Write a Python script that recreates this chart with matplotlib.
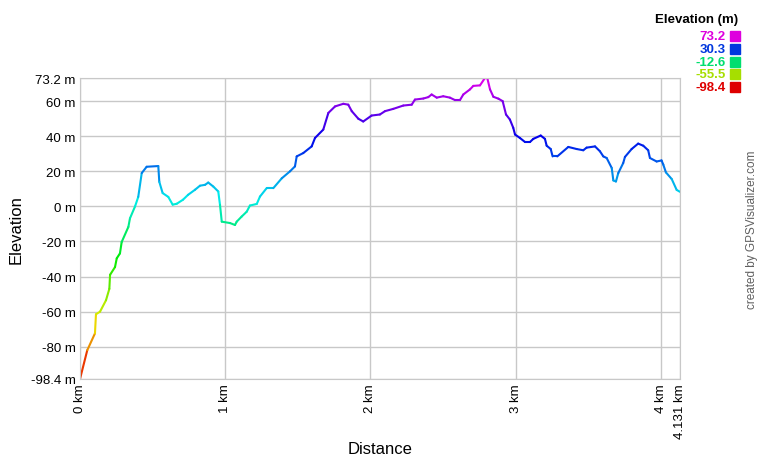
import numpy as np
import matplotlib
matplotlib.use('Agg')
import matplotlib.pyplot as plt
from matplotlib.collections import LineCollection
from matplotlib.colors import hsv_to_rgb

plt.rcParams['font.family'] = ['Liberation Sans', 'DejaVu Sans']

# profile (distance in km, elevation in m)
dist_km = [0.000, 0.050, 0.103, 0.110, 0.138, 0.179, 0.202, 0.207, 0.241, 0.253,
           0.275, 0.287, 0.333, 0.344, 0.379, 0.401, 0.425, 0.459, 0.539, 0.546,
           0.569, 0.608, 0.638, 0.666, 0.709, 0.744, 0.792, 0.826, 0.861, 0.883,
           0.918, 0.952, 0.964, 0.976, 1.033, 1.067, 1.079, 1.113, 1.148, 1.170,
           1.217, 1.239, 1.285, 1.331, 1.389, 1.446, 1.480, 1.492, 1.537, 1.595,
           1.618, 1.675, 1.710, 1.756, 1.813, 1.847, 1.871, 1.916, 1.950, 2.008,
           2.065, 2.100, 2.157, 2.226, 2.284, 2.306, 2.364, 2.398, 2.421, 2.456,
           2.501, 2.547, 2.582, 2.616, 2.639, 2.685, 2.708, 2.754, 2.788, 2.804,
           2.823, 2.846, 2.881, 2.910, 2.933, 2.960, 2.983, 2.995, 3.029, 3.064,
           3.098, 3.121, 3.172, 3.201, 3.213, 3.241, 3.254, 3.286, 3.362, 3.420,
           3.465, 3.488, 3.546, 3.580, 3.603, 3.626, 3.661, 3.672, 3.690, 3.706,
           3.740, 3.752, 3.798, 3.843, 3.878, 3.912, 3.924, 3.970, 4.004, 4.016,
           4.034, 4.074, 4.108, 4.131]
elev_m = [-98.4, -82.0, -72.4, -61.5, -60.0, -53.5, -47.0, -39.0, -34.6, -29.6,
          -26.8, -20.3, -11.7, -6.8, 0.0, 5.4, 19.0, 22.6, 23.0, 14.0,
          7.6, 5.4, 1.0, 1.5, 3.8, 6.6, 9.5, 11.8, 12.3, 13.6,
          11.3, 8.5, 0.8, -8.7, -9.5, -10.6, -8.7, -5.8, -3.0, 0.5,
          1.4, 5.6, 10.4, 10.4, 16.0, 20.0, 22.8, 28.5, 30.4, 34.2,
          39.0, 43.8, 53.3, 57.0, 58.5, 58.0, 54.3, 50.0, 48.4, 51.8,
          52.4, 54.3, 55.6, 57.5, 58.0, 60.9, 61.5, 62.3, 63.8, 62.0,
          62.8, 62.0, 60.6, 60.6, 63.8, 66.7, 68.7, 69.0, 73.2, 73.2,
          66.7, 62.5, 61.4, 60.0, 52.4, 49.5, 44.8, 41.0, 39.0, 36.7,
          36.7, 38.5, 40.4, 38.5, 34.6, 32.7, 28.5, 28.5, 33.9, 32.7,
          32.0, 33.5, 34.2, 31.4, 28.5, 27.6, 21.9, 14.8, 14.2, 19.0,
          24.7, 28.2, 32.7, 35.8, 34.6, 32.0, 27.6, 25.6, 26.2, 23.8,
          19.4, 15.6, 9.4, 8.3]

elev_min, elev_max = -98.4, 73.2
legend_vals = [73.2, 30.3, -12.6, -55.5, -98.4]
y_ticks = [-98.4, -80, -60, -40, -20, 0, 20, 40, 60, 73.2]
y_tick_labels = ['-98.4 m', '-80 m', '-60 m', '-40 m', '-20 m', '0 m',
                 '20 m', '40 m', '60 m', '73.2 m']
x_ticks = [0, 1, 2, 3, 4, 4.131]
x_tick_labels = ['0 km', '1 km', '2 km', '3 km', '4 km', '4.131 km']


def elev_color(e, v=0.87):
    # hue runs red -> yellow -> green -> cyan -> blue -> magenta
    h = 300.0 / 360.0 * (e - elev_min) / (elev_max - elev_min)
    return hsv_to_rgb((h, 1.0, v))


x = np.array(dist_km)
y = np.array(elev_m)

fig = plt.figure(figsize=(7.6, 4.6), dpi=100)
ax = fig.add_axes([80 / 760, 80 / 460, 600 / 760, 301 / 460])

pts = np.column_stack([x, y]).reshape(-1, 1, 2)
segs = np.concatenate([pts[:-1], pts[1:]], axis=1)
cols = [elev_color((a + b) / 2, 0.92) for a, b in zip(y[:-1], y[1:])]
lc = LineCollection(segs, colors=cols, linewidths=1.5, capstyle='round',
                    joinstyle='round')
ax.add_collection(lc)

ax.set_xlim(0, 4.131)
ax.set_ylim(elev_min, elev_max)
ax.set_yticks(y_ticks)
ax.set_yticklabels(y_tick_labels)
ax.set_xticks(x_ticks)
ax.set_xticklabels(x_tick_labels, rotation=90)
ax.tick_params(length=0, labelsize=9.5, pad=3)
ax.grid(True, color='#c8c8c8', linewidth=1)
ax.set_axisbelow(True)
for s in ax.spines.values():
    s.set_color('#c8c8c8')

ax.set_ylabel('Elevation', fontsize=12, labelpad=5)
ax.set_xlabel('Distance', fontsize=12, labelpad=2)

# legend in the top right corner
fig.text(738 / 760, 1 - 20 / 460, 'Elevation (m)', ha='right', va='center',
         fontsize=9.5, fontweight='bold')
for i, v in enumerate(legend_vals):
    yy = 1 - (37 + i * 12.75) / 460
    fig.text(726 / 760, yy, f'{v:.1f}', ha='right', va='center',
             fontsize=9.5, fontweight='bold', color=elev_color(v))
    fig.patches.append(plt.Rectangle((730 / 760, yy - 5 / 460), 10 / 760, 10 / 460,
                                     transform=fig.transFigure,
                                     color=elev_color(v), figure=fig))

fig.text(752 / 760, 1 - 230 / 460, 'created by GPSVisualizer.com', rotation=90,
         ha='center', va='center', fontsize=8.5, color='#606060')

fig.savefig('out.png', dpi=100)
